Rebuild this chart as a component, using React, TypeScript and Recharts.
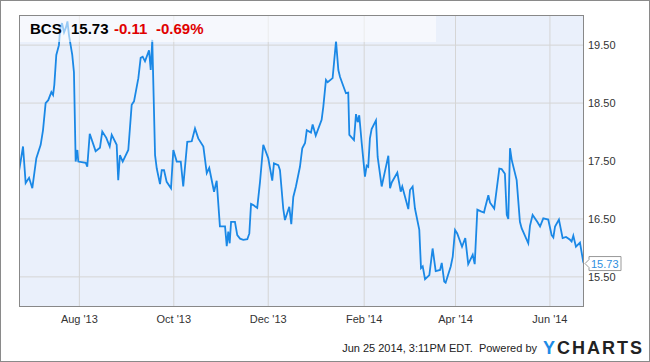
import React from "react";
import {
  LineChart,
  Line,
  XAxis,
  YAxis,
  CartesianGrid,
  ReferenceDot,
} from "recharts";

// day offsets from Jun 23 2013
const days = [
  0, 2.6, 4.3, 6.5, 8.6, 11.2, 14.0, 15.5, 17.2, 18.9, 20.9, 22.0, 22.8, 24.1,
  25.8, 26.5, 27.8, 29.1, 30.4, 31.3, 32.3, 34.4, 35.5, 36.6, 37.7, 38.3, 43.1,
  44.1, 45.7, 49.5, 52.3, 53.8, 56.4, 58.6, 59.9, 63.1, 64.1, 65.2, 67.0, 70.6,
  72.8, 74.3, 77.1, 78.6, 79.9, 81.4, 84.0, 85.1, 86.1, 87.9, 89.0, 91.1, 92.2,
  93.7, 95.4, 98.2, 99.7, 101.9, 104.5, 106.1, 108.7, 111.6, 113.7, 115.8,
  119.1, 121.3, 122.9, 126.0, 127.7, 129.8, 133.1, 134.2, 135.2, 136.1, 137.0,
  139.5, 141.0, 142.8, 144.9, 147.5, 148.8, 149.9, 151.4, 153.9, 155.7, 157.8,
  161.0, 163.6, 164.7, 167.5, 168.6, 170.7, 171.8, 174.6, 175.9, 177.2, 178.9,
  181.5, 183.0, 184.8, 185.9, 188.6, 189.7, 191.7, 195.5, 196.6, 198.3, 199.4,
  202.6, 204.8, 206.3, 207.4, 211.2, 212.7, 213.4, 216.4, 217.7, 218.8, 219.8,
  221.4, 223.5, 224.6, 225.6, 226.7, 227.8, 230.6, 231.7, 234.3, 236.4, 238.6,
  239.7, 240.8, 244.4, 246.6, 247.6, 251.5, 252.6, 254.3, 255.8, 258.6, 259.7,
  260.8, 262.3, 265.1, 267.2, 269.2, 272.0, 273.1, 274.7, 275.6, 278.9, 280.2,
  281.7, 283.1, 286.2, 288.3, 290.2, 293.1, 294.4, 296.1, 298.4, 300.4, 301.0,
  303.2, 304.3, 307.0, 310.3, 311.8, 313.9, 315.1, 316.1, 317.2, 318.3, 321.5,
  323.6, 324.7, 329.0, 330.1, 331.8, 334.8, 336.6, 338.7, 341.9, 344.1, 345.2,
  346.3, 348.8, 351.2, 353.4, 356.0, 357.0, 358.1, 359.8, 362.4, 364.5, 365,
];

const prices = [
  17.32, 17.75, 17.12, 17.21, 17.03, 17.55, 17.78, 18.03, 18.5, 18.55, 18.69,
  18.64, 18.81, 19.33, 19.5, 19.76, 19.88, 19.72, 19.81, 19.91, 19.67, 19.33,
  19.03, 17.49, 17.69, 17.49, 17.47, 17.4, 17.97, 17.67, 17.73, 18.01, 17.9,
  17.75, 17.95, 17.78, 17.17, 17.6, 17.49, 17.69, 18.47, 18.53, 18.93, 19.28,
  19.3, 19.22, 19.41, 19.07, 19.59, 17.6, 17.37, 17.1, 17.34, 17.34, 17.14,
  17.03, 17.69, 17.49, 17.49, 17.06, 17.83, 17.84, 18.06, 17.89, 17.75, 17.29,
  17.38, 16.97, 17.16, 16.37, 16.37, 16.03, 16.28, 16.08, 16.45, 16.45, 16.22,
  16.16, 16.14, 16.15, 16.25, 16.76, 16.74, 16.69, 17.14, 17.78, 17.55, 17.16,
  17.46, 17.43, 17.34, 16.68, 16.48, 16.71, 16.41, 16.88, 17.06, 17.4, 17.72,
  17.81, 18.03, 17.99, 18.13, 17.94, 18.21, 18.44, 18.9, 18.86, 18.93, 19.57,
  19.07, 18.95, 18.67, 18.68, 17.95, 17.86, 18.31, 18.17, 18.29, 17.81, 17.23,
  17.42, 17.4, 17.89, 18.05, 18.2, 17.57, 17.06, 17.32, 17.59, 17.03, 17.13,
  17.3, 16.97, 17.06, 16.67, 17.0, 17.06, 16.68, 16.31, 15.65, 15.68, 15.46,
  15.53, 15.99, 15.6, 15.62, 15.74, 15.42, 15.4, 15.68, 15.85, 16.31, 16.25,
  16.02, 16.17, 15.72, 15.88, 15.72, 16.66, 16.63, 16.61, 16.68, 16.91, 16.78,
  16.68, 17.37, 17.36, 17.28, 16.57, 16.5, 17.72, 17.52, 17.17, 16.45, 16.34,
  16.08, 16.38, 16.57, 16.45, 16.37, 16.51, 16.49, 16.22, 16.18, 16.37, 16.49,
  16.17, 16.19, 16.14, 16.11, 16.21, 16.02, 16.09, 15.76, 15.73,
];

const monthTicks = [39, 100, 161, 223, 282, 343];
const monthLabels = ["Aug '13", "Oct '13", "Dec '13", "Feb '14", "Apr '14", "Jun '14"];
const priceTicks = [15.5, 16.5, 17.5, 18.5, 19.5];

const data = days.map((d, i) => ({ day: d, price: prices[i] }));
const last = data[data.length - 1];

const FONT = "'Liberation Sans', Arial, sans-serif";

const LastTag = (props: any) => {
  const { cx, cy } = props;
  if (cx == null || cy == null) return null;
  const path = `M${cx + 1},${cy} L${cx + 5},${cy - 4} L${cx + 5},${cy - 7} L${cx + 37},${cy - 7} L${cx + 37},${cy + 7} L${cx + 5},${cy + 7} L${cx + 5},${cy + 4} Z`;
  return (
    <g>
      <path d={path} fill="#fff" stroke="#999" strokeWidth={1} />
      <text x={cx + 7} y={cy + 4} fontSize={11} fill="#2F8FE0" fontFamily={FONT}>
        {last.price.toFixed(2)}
      </text>
    </g>
  );
};

export default function App() {
  return (
    <div
      style={{
        position: "absolute",
        left: 0,
        top: 0,
        width: 650,
        height: 362,
        background: "#fff",
        fontFamily: FONT,
      }}
    >
      <LineChart
        width={650}
        height={362}
        data={data}
        margin={{ top: 15, right: 0, left: 19, bottom: 35 }}
      >
        <CartesianGrid
          stroke="#D5D5D5"
          fill="#EAF0FB"
          verticalValues={monthTicks}
          horizontalValues={priceTicks}
        />
        <XAxis
          dataKey="day"
          type="number"
          domain={[0, 365]}
          ticks={monthTicks}
          tickFormatter={(v: number) => monthLabels[monthTicks.indexOf(v)]}
          tick={{ fill: "#333", fontSize: 11, fontFamily: FONT }}
          tickLine={false}
          axisLine={false}
          tickSize={0}
          tickMargin={8}
          height={20}
          allowDataOverflow
        />
        <YAxis
          orientation="right"
          domain={[14.98, 20.02]}
          ticks={priceTicks}
          tickFormatter={(v: number) => v.toFixed(2)}
          tick={{ fill: "#333", fontSize: 11, fontFamily: FONT }}
          tickLine={false}
          axisLine={false}
          tickSize={0}
          tickMargin={4}
          width={66}
          allowDataOverflow
        />
        <Line
          type="linear"
          dataKey="price"
          stroke="#1A88E6"
          strokeWidth={1.8}
          dot={false}
          isAnimationActive={false}
        />
        <ReferenceDot
          x={last.day}
          y={last.price}
          r={0}
          ifOverflow="visible"
          shape={LastTag}
        />
      </LineChart>

      {/* plot frame */}
      <div
        style={{
          position: "absolute",
          left: 19,
          top: 15,
          width: 565,
          height: 292,
          border: "1px solid #888",
          boxSizing: "border-box",
          pointerEvents: "none",
        }}
      />
      {/* header band */}
      <div
        style={{
          position: "absolute",
          left: 20,
          top: 16,
          width: 416,
          height: 26,
          background: "rgba(255,255,255,0.55)",
        }}
      />
      <div style={{ position: "absolute", top: 21, left: 30, fontSize: 15, lineHeight: "15px", fontWeight: "bold", color: "#000" }}>
        BCS
      </div>
      <div style={{ position: "absolute", top: 21, left: 71, fontSize: 15, lineHeight: "15px", fontWeight: "bold", color: "#000" }}>
        15.73
      </div>
      <div style={{ position: "absolute", top: 21, left: 114, fontSize: 15, lineHeight: "15px", fontWeight: "bold", color: "#E00000" }}>
        -0.11
      </div>
      <div style={{ position: "absolute", top: 21, left: 156, fontSize: 15, lineHeight: "15px", fontWeight: "bold", color: "#E00000" }}>
        -0.69%
      </div>

      {/* footer */}
      <div
        style={{
          position: "absolute",
          top: 343,
          right: 113,
          fontSize: 11,
          lineHeight: "11px",
          color: "#222",
          whiteSpace: "nowrap",
        }}
      >
        Jun 25 2014, 3:11PM EDT.&nbsp; Powered by
      </div>
      <div
        style={{
          position: "absolute",
          top: 339,
          left: 543,
          fontSize: 18,
          lineHeight: "18px",
          fontWeight: "bold",
          letterSpacing: 2,
          whiteSpace: "nowrap",
        }}
      >
        <span style={{ color: "#1E8BE6" }}>Y</span>
        <span style={{ color: "#222" }}>CHARTS</span>
      </div>

      {/* outer frame */}
      <div
        style={{
          position: "absolute",
          left: 0,
          top: 0,
          width: 650,
          height: 362,
          border: "1px solid #8a8a8a",
          boxSizing: "border-box",
          pointerEvents: "none",
        }}
      />
    </div>
  );
}
